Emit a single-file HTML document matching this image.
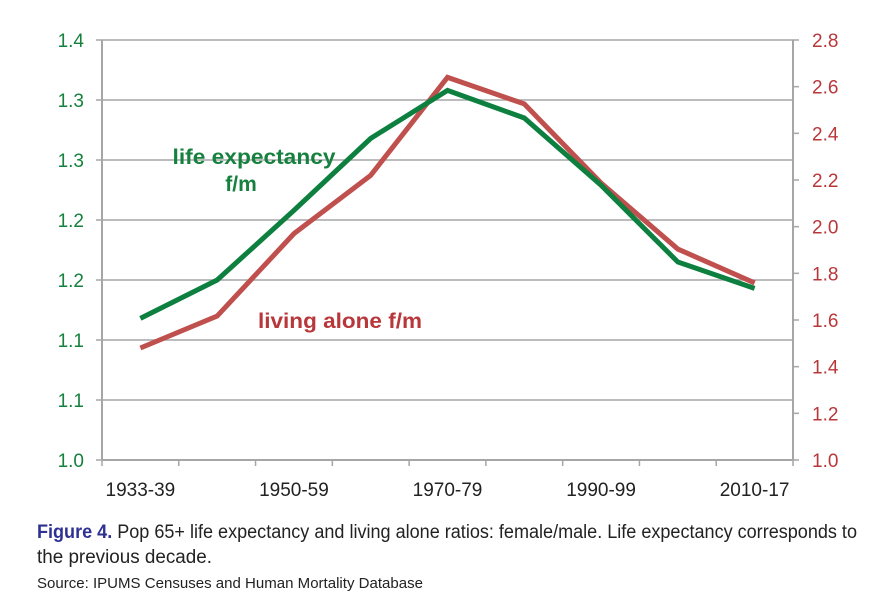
<!DOCTYPE html>
<html><head><meta charset="utf-8"><style>
html,body{margin:0;padding:0;background:#fff;}
svg{display:block;font-family:"Liberation Sans",sans-serif;}
.cap{font-family:"Liberation Sans Narrow","Liberation Sans",sans-serif;}
</style></head><body>
<svg id="chart" width="889" height="606" viewBox="0 0 889 606" xmlns="http://www.w3.org/2000/svg">
<g id="grid"></g>
<g id="axes"></g>
<g id="series"></g>
<text x="254" y="164" text-anchor="middle" font-size="21" font-weight="bold" fill="#16813f" textLength="163" lengthAdjust="spacingAndGlyphs">life expectancy</text>
<text x="241" y="191" text-anchor="middle" font-size="21" font-weight="bold" fill="#16813f">f/m</text>
<text x="258" y="328" font-size="21" font-weight="bold" fill="#b8373a" textLength="164" lengthAdjust="spacingAndGlyphs">living alone f/m</text>
<text class="cap" x="37" y="538" font-size="19" fill="#222" textLength="820" lengthAdjust="spacingAndGlyphs"><tspan font-weight="bold" fill="#2e3192">Figure 4.</tspan> Pop 65+ life expectancy and living alone ratios: female/male. Life expectancy corresponds to</text>
<text class="cap" x="37" y="563" font-size="19" fill="#222" textLength="175" lengthAdjust="spacingAndGlyphs">the previous decade.</text>
<text class="cap" x="37" y="588" font-size="15" fill="#222" textLength="386" lengthAdjust="spacingAndGlyphs">Source: IPUMS Censuses and Human Mortality Database</text>
</svg>
<script>
const categories = ["1933-39","1940-49","1950-59","1960-69","1970-79","1980-89","1990-99","2000-09","2010-17"];
const xLabelsShown = ["1933-39","1950-59","1970-79","1990-99","2010-17"];
const lifeExpectancy = [1.118,1.150,1.208,1.268,1.308,1.285,1.229,1.165,1.143];
const livingAlone = [1.48,1.617,1.97,2.22,2.64,2.526,2.187,1.904,1.759];
const leftTicks = [1.0,1.05,1.1,1.15,1.2,1.25,1.3,1.35];
const leftTickLabels = ["1.0","1.1","1.1","1.2","1.2","1.3","1.3","1.4"];
const rightTicks = [1.0,1.2,1.4,1.6,1.8,2.0,2.2,2.4,2.6,2.8];

const NS="http://www.w3.org/2000/svg";
const X0=102,X1=793,Y0=460,Y1=40;
const bw=(X1-X0)/categories.length;
function xc(i){return X0+bw*(i+0.5);}
function yL(v){return Y0-(v-1.0)/(1.35-1.0)*(Y0-Y1);}
function yR(v){return Y0-(v-1.0)/(2.8-1.0)*(Y0-Y1);}
function mk(tag,attrs,parent){const e=document.createElementNS(NS,tag);for(const k in attrs)e.setAttribute(k,attrs[k]);parent.appendChild(e);return e;}
const grid=document.getElementById('grid'),axes=document.getElementById('axes'),series=document.getElementById('series');

leftTicks.forEach((v,i)=>{
  const y=yL(v);
  if(i>0){const g=mk('line',{x1:X0,x2:X1,y1:y,y2:y,stroke:'#a6a6a6','stroke-width':1.5},grid);
    
    }
  const t=mk('line',{x1:X0-6,x2:X0,y1:y,y2:y,stroke:'#a6a6a6','stroke-width':1.5},axes);
  
  
  const tx=mk('text',{x:84,y:y+7,'text-anchor':'end','font-size':19,fill:'#16813f'},axes);
  tx.textContent=leftTickLabels[i];
  
  
});
rightTicks.forEach(v=>{
  const y=yR(v);
  const t=mk('line',{x1:X1,x2:X1+6,y1:y,y2:y,stroke:'#a6a6a6','stroke-width':1.5},axes);
  
  
  const tx=mk('text',{x:812,y:y+7,'font-size':19,fill:'#b8373a'},axes);
  tx.textContent=v.toFixed(1);
  
  
});
let a=mk('line',{x1:X0,x2:X0,y1:Y1,y2:Y0,stroke:'#a6a6a6','stroke-width':2},axes);


a=mk('line',{x1:X1,x2:X1,y1:Y1,y2:Y0,stroke:'#a6a6a6','stroke-width':2},axes);


a=mk('line',{x1:X0,x2:X1,y1:Y0,y2:Y0,stroke:'#a6a6a6','stroke-width':2},axes);


for(let i=0;i<=categories.length;i++){
  const x=X0+bw*i;
  const t=mk('line',{x1:x,x2:x,y1:Y0,y2:Y0+6,stroke:'#a6a6a6','stroke-width':1.5},axes);
  
  
}
categories.forEach((c,i)=>{
  if(xLabelsShown.indexOf(c)<0)return;
  const tx=mk('text',{x:xc(i),y:496,'text-anchor':'middle','font-size':19,fill:'#222'},axes);
  tx.textContent=c;
  
  
});
const pr=livingAlone.map((v,i)=>xc(i)+','+yR(v)).join(' ');
const lr=mk('polyline',{points:pr,fill:'none',stroke:'#c0504d','stroke-width':5,'stroke-linejoin':'miter'},series);


const pg=lifeExpectancy.map((v,i)=>xc(i)+','+yL(v)).join(' ');
const lg=mk('polyline',{points:pg,fill:'none',stroke:'#0d8040','stroke-width':5,'stroke-linejoin':'miter'},series);


</script>
</body></html>
